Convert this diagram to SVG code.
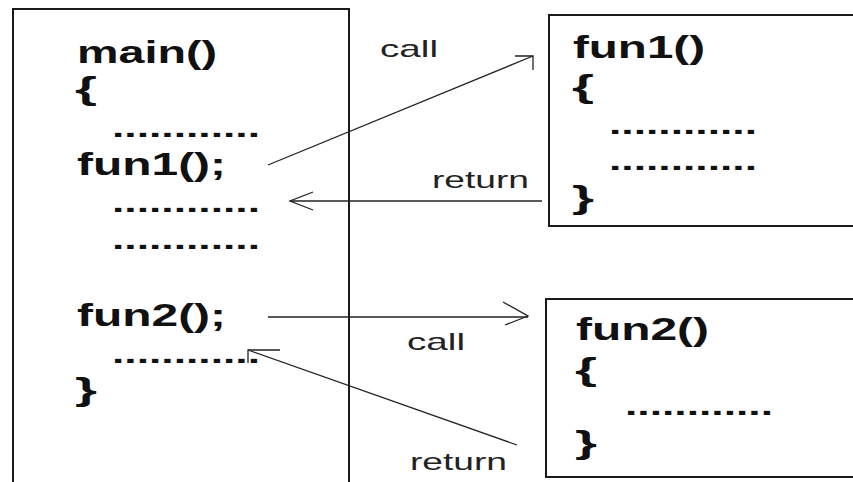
<svg xmlns="http://www.w3.org/2000/svg" width="853" height="482" viewBox="0 0 853 482">
  <style>
    .box { fill: none; stroke: #1a1a1a; stroke-width: 2; }
    .code { font-family: "Liberation Sans", Arial, sans-serif; font-weight: bold; font-size: 31px; fill: #111; }
    .dots { font-family: "Liberation Sans", Arial, sans-serif; font-weight: bold; font-size: 27px; fill: #111; }
    .lbl { font-family: "Liberation Sans", Arial, sans-serif; font-size: 24px; fill: #222; }
    .wire { fill: none; stroke: #222; stroke-width: 1.3; }
  </style>
  <rect width="853" height="482" fill="#ffffff"/>

  <!-- caller: main() -->
  <g id="main">
    <path class="box" d="M13,492 V9 H349 V492"/>
    <text class="code" x="77" y="63" textLength="140" lengthAdjust="spacingAndGlyphs">main()</text>
    <text class="code" x="75" y="99" textLength="22" lengthAdjust="spacingAndGlyphs">{</text>
    <text class="dots" x="112" y="137" textLength="148" lengthAdjust="spacingAndGlyphs">............</text>
    <text class="code" x="77" y="175" textLength="149" lengthAdjust="spacingAndGlyphs">fun1();</text>
    <text class="dots" x="112" y="212" textLength="148" lengthAdjust="spacingAndGlyphs">............</text>
    <text class="dots" x="112" y="249" textLength="148" lengthAdjust="spacingAndGlyphs">............</text>
    <text class="code" x="77" y="326" textLength="149" lengthAdjust="spacingAndGlyphs">fun2();</text>
    <text class="dots" x="112" y="363" textLength="148" lengthAdjust="spacingAndGlyphs">............</text>
    <text class="code" x="75" y="400" textLength="22" lengthAdjust="spacingAndGlyphs">}</text>
  </g>

  <!-- callee: fun1() -->
  <g id="fun1">
    <rect class="box" x="549" y="15" width="330" height="211"/>
    <text class="code" x="573" y="58" textLength="132" lengthAdjust="spacingAndGlyphs">fun1()</text>
    <text class="code" x="572" y="97" textLength="22" lengthAdjust="spacingAndGlyphs">{</text>
    <text class="dots" x="609" y="134" textLength="148" lengthAdjust="spacingAndGlyphs">............</text>
    <text class="dots" x="609" y="170" textLength="148" lengthAdjust="spacingAndGlyphs">............</text>
    <text class="code" x="572" y="208" textLength="22" lengthAdjust="spacingAndGlyphs">}</text>
  </g>

  <!-- callee: fun2() -->
  <g id="fun2">
    <rect class="box" x="546" y="299" width="330" height="178"/>
    <text class="code" x="576" y="340" textLength="133" lengthAdjust="spacingAndGlyphs">fun2()</text>
    <text class="code" x="575" y="380" textLength="22" lengthAdjust="spacingAndGlyphs">{</text>
    <text class="dots" x="625" y="415" textLength="148" lengthAdjust="spacingAndGlyphs">............</text>
    <text class="code" x="575" y="453" textLength="22" lengthAdjust="spacingAndGlyphs">}</text>
  </g>

  <!-- call / return connectors -->
  <g id="connectors">
    <!-- call fun1 -->
    <path class="wire" d="M268,165 L533,56"/>
    <path class="wire" d="M515,56 H533 V70"/>
    <text class="lbl" x="380" y="57" textLength="58" lengthAdjust="spacingAndGlyphs">call</text>
    <!-- return from fun1 -->
    <path class="wire" d="M542,201 H290"/>
    <path class="wire" d="M313,192 L290,201 L313,210"/>
    <text class="lbl" x="432" y="188" textLength="97" lengthAdjust="spacingAndGlyphs">return</text>
    <!-- call fun2 -->
    <path class="wire" d="M268,317 H528"/>
    <path class="wire" d="M503,302 L528,316 L505,325"/>
    <text class="lbl" x="407" y="350" textLength="58" lengthAdjust="spacingAndGlyphs">call</text>
    <!-- return from fun2 -->
    <path class="wire" d="M517,445 L248,350"/>
    <path class="wire" d="M280,350 H248 V363"/>
    <text class="lbl" x="410" y="470" textLength="97" lengthAdjust="spacingAndGlyphs">return</text>
  </g>
</svg>
